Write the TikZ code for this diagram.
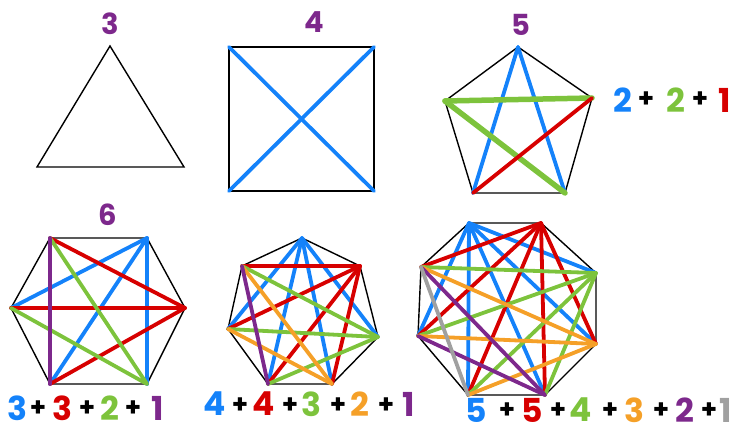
\documentclass[tikz,border=0pt]{standalone}
\usepackage{fontspec}
\setsansfont{Poppins}
\definecolor{azul}{RGB}{20,130,250}
\definecolor{rojo}{RGB}{215,0,0}
\definecolor{verde}{RGB}{125,195,60}
\definecolor{morado}{RGB}{125,40,140}
\definecolor{naranja}{RGB}{245,160,40}
\definecolor{gris}{RGB}{160,160,160}
\tikzset{
  arista/.style={black, line width=1.4pt, line join=miter},
  cuerda/.style={line width=3.8pt, line cap=round},
  titulo/.style={text=morado, font=\sffamily\bfseries\fontsize{29}{29}\selectfont, inner sep=0pt},
  cifra/.style={font=\sffamily\bfseries\fontsize{33}{33}\selectfont, inner sep=0pt},
  mas/.style={font=\sffamily\bfseries\fontsize{26}{26}\selectfont, inner sep=0pt},
}
\begin{document}
\begin{tikzpicture}[x=1pt, y=-1pt]
    \useasboundingbox (0,0) rectangle (734,433);

    % Triangulo
    \coordinate (t1) at (110,46);
    \coordinate (t2) at (184,167);
    \coordinate (t3) at (37,167);
    \draw[arista] (t1) -- (t2) -- (t3) -- cycle;
    \node[titulo] (n3) at (110,24) {3};

    % Cuadrado
    \coordinate (c1) at (229,47);
    \coordinate (c2) at (374,47);
    \coordinate (c3) at (374,191);
    \coordinate (c4) at (229,191);
    \draw[arista] (c1) -- (c2) -- (c3) -- (c4) -- cycle;
    \draw[cuerda, azul] (c1) -- (c3);
    \draw[cuerda, azul] (c2) -- (c4);
    \node[titulo] (n4) at (314,22) {4};

    % Pentagono
    \coordinate (p1) at (518,47);
    \coordinate (p2) at (592,98);
    \coordinate (p3) at (565,193);
    \coordinate (p4) at (473,193);
    \coordinate (p5) at (445,101);
    \draw[arista] (p1) -- (p2) -- (p3) -- (p4) -- (p5) -- cycle;
    \draw[cuerda, azul] (p1) -- (p3);
    \draw[cuerda, azul] (p1) -- (p4);
    \draw[cuerda, verde, line width=5.5pt] (p5) -- (p2);
    \draw[cuerda, verde, line width=5.5pt] (p5) -- (p3);
    \draw[cuerda, rojo] (p2) -- (p4);
    \node[titulo] (n5) at (521,25) {5};

    % Suma del pentagono
    \node[cifra, text=azul] (s5-1) at (623,100) {2};
    \node[mas] (s5-2) at (646,100) {+};
    \node[cifra, text=verde] (s5-3) at (676,100) {2};
    \node[mas] (s5-4) at (700,100) {+};
    \node[cifra, text=rojo] (s5-5) at (725,100) {1};

    % Hexagono
    \coordinate (h1) at (50,238);
    \coordinate (h2) at (147,238);
    \coordinate (h3) at (185,308);
    \coordinate (h4) at (147,384);
    \coordinate (h5) at (50,384);
    \coordinate (h6) at (11,308);
    \draw[arista] (h1) -- (h2) -- (h3) -- (h4) -- (h5) -- (h6) -- cycle;
    \foreach \j in {h4,h5,h6}
      \draw[cuerda, azul] (h2) -- (\j);
    \foreach \j in {h1,h5,h6}
      \draw[cuerda, rojo] (h3) -- (\j);
    \foreach \j in {h1,h6}
      \draw[cuerda, verde] (h4) -- (\j);
    \draw[cuerda, morado] (h1) -- (h5);
    \node[titulo] (n6) at (108,215) {6};

    % Suma del hexagono
    \foreach \x/\t/\c [count=\i] in {17/3/azul, 62/3/rojo, 110/2/verde, 158/1/morado}
      \node[cifra, text=\c] (s6-\i) at (\x,408) {\t};
    \foreach \x [count=\i] in {38,87,133}
      \node[mas] (m6-\i) at (\x,409) {+};

    % Heptagono
    \coordinate (e1) at (302,238);
    \coordinate (e2) at (360,266);
    \coordinate (e3) at (378,337);
    \coordinate (e4) at (332,384);
    \coordinate (e5) at (268,384);
    \coordinate (e6) at (228,329);
    \coordinate (e7) at (242,266);
    \draw[arista] (e1) -- (e2) -- (e3) -- (e4) -- (e5) -- (e6) -- (e7) -- cycle;
    \foreach \j in {e3,e4,e5,e6}
      \draw[cuerda, azul] (e1) -- (\j);
    \foreach \j in {e4,e5,e6,e7}
      \draw[cuerda, rojo] (e2) -- (\j);
    \foreach \j in {e5,e6,e7}
      \draw[cuerda, verde] (e3) -- (\j);
    \foreach \j in {e6,e7}
      \draw[cuerda, naranja] (e4) -- (\j);
    \draw[cuerda, morado] (e7) -- (e5);

    % Suma del heptagono
    \foreach \x/\t/\c [count=\i] in {215/4/azul, 264/4/rojo, 311/3/verde, 360/2/naranja, 409/1/morado}
      \node[cifra, text=\c] (s7-\i) at (\x,404) {\t};
    \foreach \x [count=\i] in {240,290,338,386}
      \node[mas] (m7-\i) at (\x,406) {+};

    % Octagono
    \coordinate (o1) at (469,223);
    \coordinate (o2) at (541,223);
    \coordinate (o3) at (596,273);
    \coordinate (o4) at (596,344);
    \coordinate (o5) at (545,395);
    \coordinate (o6) at (468,395);
    \coordinate (o7) at (418,336);
    \coordinate (o8) at (421,267);
    \draw[arista] (o1) -- (o2) -- (o3) -- (o4) -- (o5) -- (o6) -- (o7) -- (o8) -- cycle;
    \foreach \j in {o3,o4,o5,o6,o7}
      \draw[cuerda, azul] (o1) -- (\j);
    \foreach \j in {o4,o5,o6,o7,o8}
      \draw[cuerda, rojo] (o2) -- (\j);
    \foreach \j in {o5,o6,o7,o8}
      \draw[cuerda, verde] (o3) -- (\j);
    \foreach \j in {o6,o7,o8}
      \draw[cuerda, naranja] (o4) -- (\j);
    \foreach \j in {o7,o8}
      \draw[cuerda, morado] (o5) -- (\j);
    \draw[cuerda, gris] (o8) -- (o6);

    % Suma del octagono
    \foreach \x/\t/\c [count=\i] in {476/5/azul, 532/5/rojo, 581/4/verde, 634/3/naranja, 685/2/morado, 726/1/gris}
      \node[cifra, text=\c] (s8-\i) at (\x,410) {\t};
    \foreach \x [count=\i] in {507,558,610,661,709}
      \node[mas] (m8-\i) at (\x,411) {+};
\end{tikzpicture}
\end{document}
